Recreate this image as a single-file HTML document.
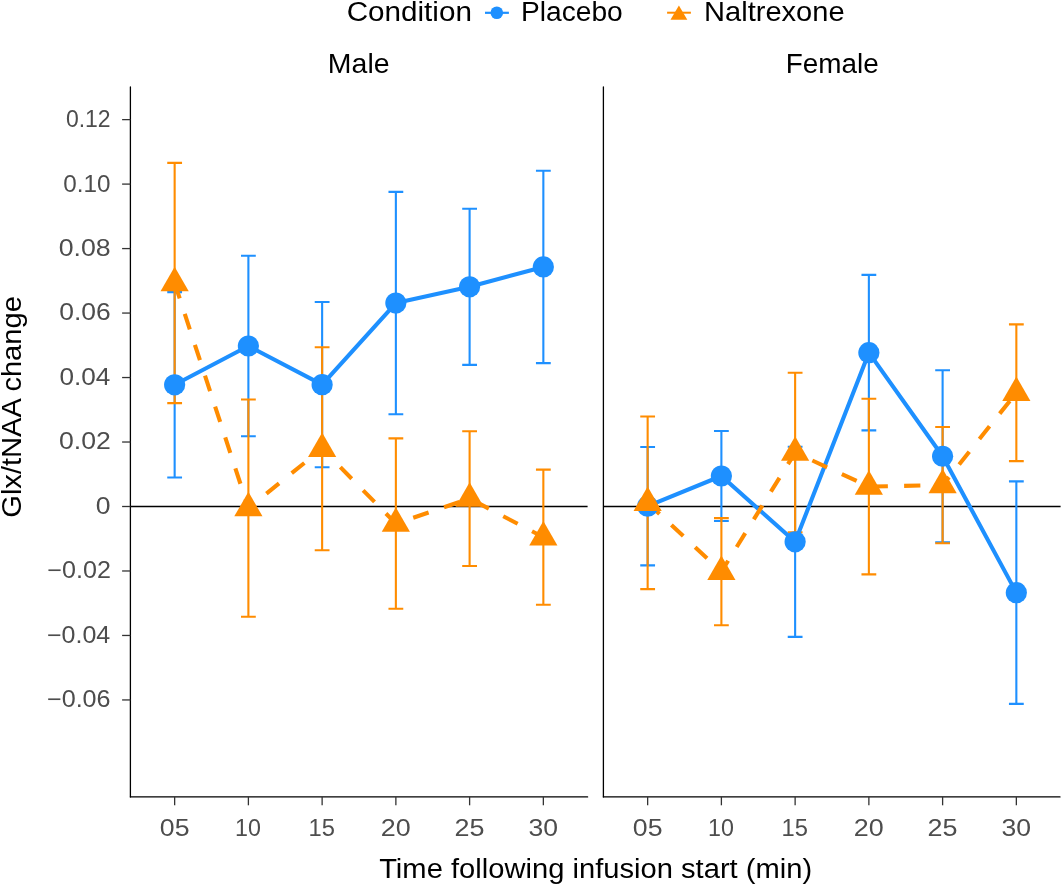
<!DOCTYPE html><html><head><meta charset="utf-8"><style>html,body{margin:0;padding:0;background:#fff;width:1061px;height:884px;overflow:hidden}svg{display:block;will-change:transform}text{font-family:"Liberation Sans",sans-serif}</style></head><body>
<svg width="1061" height="884" viewBox="0 0 1061 884">
<rect width="1061" height="884" fill="#fff"/>
<text transform="translate(346.69,21.10) scale(1.0586,1)" font-size="28" fill="#000">Condition</text>
<line x1="485" y1="12.8" x2="508.9" y2="12.8" stroke="#1E90FF" stroke-width="2.2"/>
<circle cx="496.8" cy="12.8" r="6.3" fill="#1E90FF"/>
<text transform="translate(520.99,20.80) scale(1.0060,1)" font-size="28" fill="#000">Placebo</text>
<line x1="667.1" y1="12.7" x2="690.9" y2="12.7" stroke="#FF8C00" stroke-width="2"/>
<polygon points="678.9,5.4 687.3,19.8 670.5,19.8" fill="#FF8C00"/>
<text transform="translate(704.01,20.70) scale(1.0389,1)" font-size="28" fill="#000">Naltrexone</text>
<text transform="translate(327.86,72.90) scale(1.0167,1)" font-size="28" fill="#000">Male</text>
<text transform="translate(785.81,73.00) scale(0.9953,1)" font-size="28" fill="#000">Female</text>
<line x1="130.4" y1="87.0" x2="130.4" y2="796.9" stroke="#000" stroke-width="1.3" stroke-linecap="round"/>
<line x1="130.4" y1="796.9" x2="587.6" y2="796.9" stroke="#000" stroke-width="1.3" stroke-linecap="round"/>
<line x1="130.4" y1="506.5" x2="587.6" y2="506.5" stroke="#000" stroke-width="1.3"/>
<line x1="174.65" y1="796.9" x2="174.65" y2="805.3" stroke="#333" stroke-width="1.3"/>
<line x1="248.39" y1="796.9" x2="248.39" y2="805.3" stroke="#333" stroke-width="1.3"/>
<line x1="322.13" y1="796.9" x2="322.13" y2="805.3" stroke="#333" stroke-width="1.3"/>
<line x1="395.87" y1="796.9" x2="395.87" y2="805.3" stroke="#333" stroke-width="1.3"/>
<line x1="469.61" y1="796.9" x2="469.61" y2="805.3" stroke="#333" stroke-width="1.3"/>
<line x1="543.35" y1="796.9" x2="543.35" y2="805.3" stroke="#333" stroke-width="1.3"/>
<line x1="603.4" y1="87.0" x2="603.4" y2="796.9" stroke="#000" stroke-width="1.3" stroke-linecap="round"/>
<line x1="603.4" y1="796.9" x2="1060.0" y2="796.9" stroke="#000" stroke-width="1.3" stroke-linecap="round"/>
<line x1="603.4" y1="506.5" x2="1060.6" y2="506.5" stroke="#000" stroke-width="1.3"/>
<line x1="647.65" y1="796.9" x2="647.65" y2="805.3" stroke="#333" stroke-width="1.3"/>
<line x1="721.39" y1="796.9" x2="721.39" y2="805.3" stroke="#333" stroke-width="1.3"/>
<line x1="795.13" y1="796.9" x2="795.13" y2="805.3" stroke="#333" stroke-width="1.3"/>
<line x1="868.87" y1="796.9" x2="868.87" y2="805.3" stroke="#333" stroke-width="1.3"/>
<line x1="942.61" y1="796.9" x2="942.61" y2="805.3" stroke="#333" stroke-width="1.3"/>
<line x1="1016.35" y1="796.9" x2="1016.35" y2="805.3" stroke="#333" stroke-width="1.3"/>
<line x1="122.1" y1="119.62" x2="130.4" y2="119.62" stroke="#333" stroke-width="1.3"/>
<text transform="translate(65.90,127.02) scale(0.9998,1)" font-size="23" fill="#4D4D4D">0.12</text>
<line x1="122.1" y1="184.10" x2="130.4" y2="184.10" stroke="#333" stroke-width="1.3"/>
<text transform="translate(63.25,191.50) scale(1.0543,1)" font-size="23" fill="#4D4D4D">0.10</text>
<line x1="122.1" y1="248.58" x2="130.4" y2="248.58" stroke="#333" stroke-width="1.3"/>
<text transform="translate(58.66,255.98) scale(1.1617,1)" font-size="23" fill="#4D4D4D">0.08</text>
<line x1="122.1" y1="313.06" x2="130.4" y2="313.06" stroke="#333" stroke-width="1.3"/>
<text transform="translate(59.17,320.46) scale(1.1504,1)" font-size="23" fill="#4D4D4D">0.06</text>
<line x1="122.1" y1="377.54" x2="130.4" y2="377.54" stroke="#333" stroke-width="1.3"/>
<text transform="translate(59.38,384.94) scale(1.1368,1)" font-size="23" fill="#4D4D4D">0.04</text>
<line x1="122.1" y1="442.02" x2="130.4" y2="442.02" stroke="#333" stroke-width="1.3"/>
<text transform="translate(58.96,449.42) scale(1.1590,1)" font-size="23" fill="#4D4D4D">0.02</text>
<line x1="122.1" y1="506.50" x2="130.4" y2="506.50" stroke="#333" stroke-width="1.3"/>
<text transform="translate(95.76,513.90) scale(1.1551,1)" font-size="23" fill="#4D4D4D">0</text>
<line x1="122.1" y1="570.98" x2="130.4" y2="570.98" stroke="#333" stroke-width="1.3"/>
<text transform="translate(47.36,578.38) scale(1.0913,1)" font-size="23" fill="#4D4D4D">−0.02</text>
<line x1="122.1" y1="635.46" x2="130.4" y2="635.46" stroke="#333" stroke-width="1.3"/>
<text transform="translate(46.97,642.86) scale(1.0871,1)" font-size="23" fill="#4D4D4D">−0.04</text>
<line x1="122.1" y1="699.94" x2="130.4" y2="699.94" stroke="#333" stroke-width="1.3"/>
<text transform="translate(46.96,707.34) scale(1.0936,1)" font-size="23" fill="#4D4D4D">−0.06</text>
<text transform="translate(159.85,836.10) scale(1.1594,1)" font-size="23" fill="#4D4D4D">05</text>
<text transform="translate(235.01,836.10) scale(1.0117,1)" font-size="23" fill="#4D4D4D">10</text>
<text transform="translate(308.52,836.10) scale(1.0321,1)" font-size="23" fill="#4D4D4D">15</text>
<text transform="translate(380.77,836.10) scale(1.1708,1)" font-size="23" fill="#4D4D4D">20</text>
<text transform="translate(454.51,836.10) scale(1.1722,1)" font-size="23" fill="#4D4D4D">25</text>
<text transform="translate(528.59,836.10) scale(1.1550,1)" font-size="23" fill="#4D4D4D">30</text>
<text transform="translate(632.85,836.10) scale(1.1594,1)" font-size="23" fill="#4D4D4D">05</text>
<text transform="translate(708.01,836.10) scale(1.0117,1)" font-size="23" fill="#4D4D4D">10</text>
<text transform="translate(781.52,836.10) scale(1.0321,1)" font-size="23" fill="#4D4D4D">15</text>
<text transform="translate(853.77,836.10) scale(1.1708,1)" font-size="23" fill="#4D4D4D">20</text>
<text transform="translate(927.51,836.10) scale(1.1722,1)" font-size="23" fill="#4D4D4D">25</text>
<text transform="translate(1001.59,836.10) scale(1.1550,1)" font-size="23" fill="#4D4D4D">30</text>
<text transform="translate(379.15,878.00) scale(1.0411,1)" font-size="28" fill="#000">Time following infusion start (min)</text>
<text transform="translate(20.80,517.76) rotate(-90) scale(1.0400,1)" font-size="28" fill="#000">Glx/tNAA change</text>
<path d="M167.25,292.1H182.05M174.65,292.1V477.5M167.25,477.5H182.05" stroke="#1E90FF" stroke-width="2.1" fill="none"/>
<path d="M240.99,255.7H255.79M248.39,255.7V436.3M240.99,436.3H255.79" stroke="#1E90FF" stroke-width="2.1" fill="none"/>
<path d="M314.73,302.0H329.53M322.13,302.0V467.3M314.73,467.3H329.53" stroke="#1E90FF" stroke-width="2.1" fill="none"/>
<path d="M388.47,191.9H403.27M395.87,191.9V414.2M388.47,414.2H403.27" stroke="#1E90FF" stroke-width="2.1" fill="none"/>
<path d="M462.21,208.8H477.01M469.61,208.8V364.9M462.21,364.9H477.01" stroke="#1E90FF" stroke-width="2.1" fill="none"/>
<path d="M535.95,170.8H550.75M543.35,170.8V363.1M535.95,363.1H550.75" stroke="#1E90FF" stroke-width="2.1" fill="none"/>
<path d="M167.25,162.9H182.05M174.65,162.9V403.1M167.25,403.1H182.05" stroke="#FF8C00" stroke-width="2.1" fill="none"/>
<path d="M240.99,399.5H255.79M248.39,399.5V616.7M240.99,616.7H255.79" stroke="#FF8C00" stroke-width="2.1" fill="none"/>
<path d="M314.73,347.2H329.53M322.13,347.2V550.2M314.73,550.2H329.53" stroke="#FF8C00" stroke-width="2.1" fill="none"/>
<path d="M388.47,438.4H403.27M395.87,438.4V608.8M388.47,608.8H403.27" stroke="#FF8C00" stroke-width="2.1" fill="none"/>
<path d="M462.21,431.2H477.01M469.61,431.2V566.0M462.21,566.0H477.01" stroke="#FF8C00" stroke-width="2.1" fill="none"/>
<path d="M535.95,469.6H550.75M543.35,469.6V604.8M535.95,604.8H550.75" stroke="#FF8C00" stroke-width="2.1" fill="none"/>
<path d="M640.25,447.0H655.05M647.65,447.0V565.4M640.25,565.4H655.05" stroke="#1E90FF" stroke-width="2.1" fill="none"/>
<path d="M713.99,431.0H728.79M721.39,431.0V521.0M713.99,521.0H728.79" stroke="#1E90FF" stroke-width="2.1" fill="none"/>
<path d="M787.73,446.7H802.53M795.13,446.7V636.9M787.73,636.9H802.53" stroke="#1E90FF" stroke-width="2.1" fill="none"/>
<path d="M861.47,274.9H876.27M868.87,274.9V430.4M861.47,430.4H876.27" stroke="#1E90FF" stroke-width="2.1" fill="none"/>
<path d="M935.21,370.2H950.01M942.61,370.2V542.3M935.21,542.3H950.01" stroke="#1E90FF" stroke-width="2.1" fill="none"/>
<path d="M1008.95,481.4H1023.75M1016.35,481.4V703.9M1008.95,703.9H1023.75" stroke="#1E90FF" stroke-width="2.1" fill="none"/>
<path d="M640.25,416.5H655.05M647.65,416.5V589.1M640.25,589.1H655.05" stroke="#FF8C00" stroke-width="2.1" fill="none"/>
<path d="M713.99,518.1H728.79M721.39,518.1V625.3M713.99,625.3H728.79" stroke="#FF8C00" stroke-width="2.1" fill="none"/>
<path d="M787.73,372.7H802.53M795.13,372.7V532.4M787.73,532.4H802.53" stroke="#FF8C00" stroke-width="2.1" fill="none"/>
<path d="M861.47,398.7H876.27M868.87,398.7V574.4M861.47,574.4H876.27" stroke="#FF8C00" stroke-width="2.1" fill="none"/>
<path d="M935.21,427.0H950.01M942.61,427.0V543.3M935.21,543.3H950.01" stroke="#FF8C00" stroke-width="2.1" fill="none"/>
<path d="M1008.95,324.4H1023.75M1016.35,324.4V461.1M1008.95,461.1H1023.75" stroke="#FF8C00" stroke-width="2.1" fill="none"/>
<polyline points="174.65,384.80 248.39,346.00 322.13,384.65 395.87,303.05 469.61,286.85 543.35,266.95" stroke="#1E90FF" stroke-width="4.1" fill="none" stroke-linejoin="round"/>
<polyline points="174.65,283.00 248.39,508.10 322.13,448.70 395.87,523.60 469.61,498.60 543.35,537.20" stroke="#FF8C00" stroke-width="4.1" fill="none" stroke-linejoin="round" stroke-dasharray="16.25 16.25"/>
<polyline points="647.65,506.20 721.39,476.00 795.13,541.80 868.87,352.65 942.61,456.25 1016.35,592.65" stroke="#1E90FF" stroke-width="4.1" fill="none" stroke-linejoin="round"/>
<polyline points="647.65,502.80 721.39,571.70 795.13,452.55 868.87,486.55 942.61,485.15 1016.35,392.75" stroke="#FF8C00" stroke-width="4.1" fill="none" stroke-linejoin="round" stroke-dasharray="16.25 16.25"/>
<circle cx="174.65" cy="384.80" r="10.6" fill="#1E90FF"/>
<circle cx="248.39" cy="346.00" r="10.6" fill="#1E90FF"/>
<circle cx="322.13" cy="384.65" r="10.6" fill="#1E90FF"/>
<circle cx="395.87" cy="303.05" r="10.6" fill="#1E90FF"/>
<circle cx="469.61" cy="286.85" r="10.6" fill="#1E90FF"/>
<circle cx="543.35" cy="266.95" r="10.6" fill="#1E90FF"/>
<polygon points="174.65,266.70 188.75,291.20 160.55,291.20" fill="#FF8C00"/>
<polygon points="248.39,491.80 262.49,516.30 234.29,516.30" fill="#FF8C00"/>
<polygon points="322.13,432.40 336.23,456.90 308.03,456.90" fill="#FF8C00"/>
<polygon points="395.87,507.30 409.97,531.80 381.77,531.80" fill="#FF8C00"/>
<polygon points="469.61,482.30 483.71,506.80 455.51,506.80" fill="#FF8C00"/>
<polygon points="543.35,520.90 557.45,545.40 529.25,545.40" fill="#FF8C00"/>
<circle cx="647.65" cy="506.20" r="10.6" fill="#1E90FF"/>
<circle cx="721.39" cy="476.00" r="10.6" fill="#1E90FF"/>
<circle cx="795.13" cy="541.80" r="10.6" fill="#1E90FF"/>
<circle cx="868.87" cy="352.65" r="10.6" fill="#1E90FF"/>
<circle cx="942.61" cy="456.25" r="10.6" fill="#1E90FF"/>
<circle cx="1016.35" cy="592.65" r="10.6" fill="#1E90FF"/>
<polygon points="647.65,486.50 661.75,511.00 633.55,511.00" fill="#FF8C00"/>
<polygon points="721.39,555.40 735.49,579.90 707.29,579.90" fill="#FF8C00"/>
<polygon points="795.13,436.25 809.23,460.75 781.03,460.75" fill="#FF8C00"/>
<polygon points="868.87,470.25 882.97,494.75 854.77,494.75" fill="#FF8C00"/>
<polygon points="942.61,468.85 956.71,493.35 928.51,493.35" fill="#FF8C00"/>
<polygon points="1016.35,376.45 1030.45,400.95 1002.25,400.95" fill="#FF8C00"/>
</svg></body></html>
